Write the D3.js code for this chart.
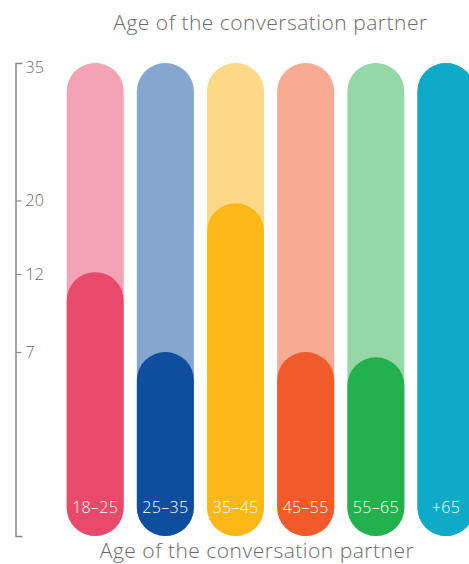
<!DOCTYPE html>
<html>
<head>
<meta charset="utf-8">
<script src="https://cdn.jsdelivr.net/npm/d3@7"></script>
<style>
  html, body { margin: 0; padding: 0; background: #fff; }
  svg { display: block; font-family: "Open Sans", "Noto Sans", sans-serif; }
</style>
</head>
<body>
<svg id="chart" width="469" height="564"></svg>
<script>
// Age groups and their values
const categories = ["18–25", "25–35", "35–45", "45–55", "55–65", "+65"];
const values = [12.2, 7, 19.7, 7, 6.8, 35];
const maxValue = 35;
const tickValues = [35, 20, 12, 7];
const lightColors = ["#F3A3B4", "#85A6CE", "#FDD887", "#F8AB93", "#94D8A7", "#0EAAC7"];
const darkColors = ["#E84A6C", "#0D4F9E", "#FDB818", "#F15A2B", "#22B14C", "#0EAAC7"];
const title = "Age of the conversation partner";

const svg = d3.select("#chart");

// Piecewise vertical scale: each labelled step gets its own span
const y = d3.scaleLinear()
  .domain([0, 7, 12, 20, 35])
  .range([536, 352, 274, 200.5, 63]);

const x = d3.scaleBand()
  .domain(categories)
  .range([66.7, 474.5])
  .paddingInner(0.1875)
  .paddingOuter(0);

const bw = x.bandwidth();
const rows = categories.map((c, i) => ({ c, v: values[i], light: lightColors[i], dark: darkColors[i] }));

// Full-height track behind each bar
svg.append("g").selectAll("rect")
  .data(rows).join("rect")
  .attr("x", d => x(d.c))
  .attr("width", bw)
  .attr("y", y(maxValue))
  .attr("height", y(0) - y(maxValue))
  .attr("rx", bw / 2)
  .attr("fill", d => d.light);

// Value bar
svg.append("g").selectAll("rect")
  .data(rows).join("rect")
  .attr("x", d => x(d.c))
  .attr("width", bw)
  .attr("y", d => y(d.v))
  .attr("height", d => y(0) - y(d.v))
  .attr("rx", bw / 2)
  .attr("fill", d => d.dark);

// Category labels inside the bars
svg.append("g").selectAll("text")
  .data(rows).join("text")
  .attr("x", d => x(d.c) + bw / 2)
  .attr("y", 512.5)
  .attr("text-anchor", "middle")
  .attr("fill", "#fff")
  .attr("font-size", 16)
  .attr("font-weight", 300)
  .attr("letter-spacing", 0.3)
  .text(d => d.c);

// Bracket-style axis on the left
const axis = d3.axisRight(y)
  .tickValues(tickValues)
  .tickSize(6)
  .tickSizeOuter(7)
  .tickPadding(4)
  .tickFormat(d3.format("d"));

const ag = svg.append("g")
  .attr("transform", "translate(15.5,0)")
  .call(axis);
ag.select(".domain").attr("stroke", "#8a8a8a").attr("stroke-width", 1.5);
ag.selectAll(".tick line").attr("stroke", "#8a8a8a").attr("stroke-width", 1.2);
ag.selectAll(".tick text")
  .attr("fill", "#6a6a6a")
  .attr("font-size", 16)
  .attr("font-weight", 300)
  .attr("font-family", "\"Open Sans\", sans-serif")
  .attr("dy", d => d === maxValue ? "0.62em" : "0.34em");
ag.selectAll(".tick").filter(d => d === maxValue).select("line").remove();

// Titles above and below
svg.append("text")
  .attr("x", 270.5)
  .attr("y", 29.5)
  .attr("text-anchor", "middle")
  .attr("fill", "#6a6a6a")
  .attr("font-size", 21)
  .attr("font-weight", 300)
  .attr("letter-spacing", 0.5)
  .text(title);

svg.append("text")
  .attr("x", 257)
  .attr("y", 558)
  .attr("text-anchor", "middle")
  .attr("fill", "#6a6a6a")
  .attr("font-size", 21)
  .attr("font-weight", 300)
  .attr("letter-spacing", 0.5)
  .text(title);
</script>
</body>
</html>
